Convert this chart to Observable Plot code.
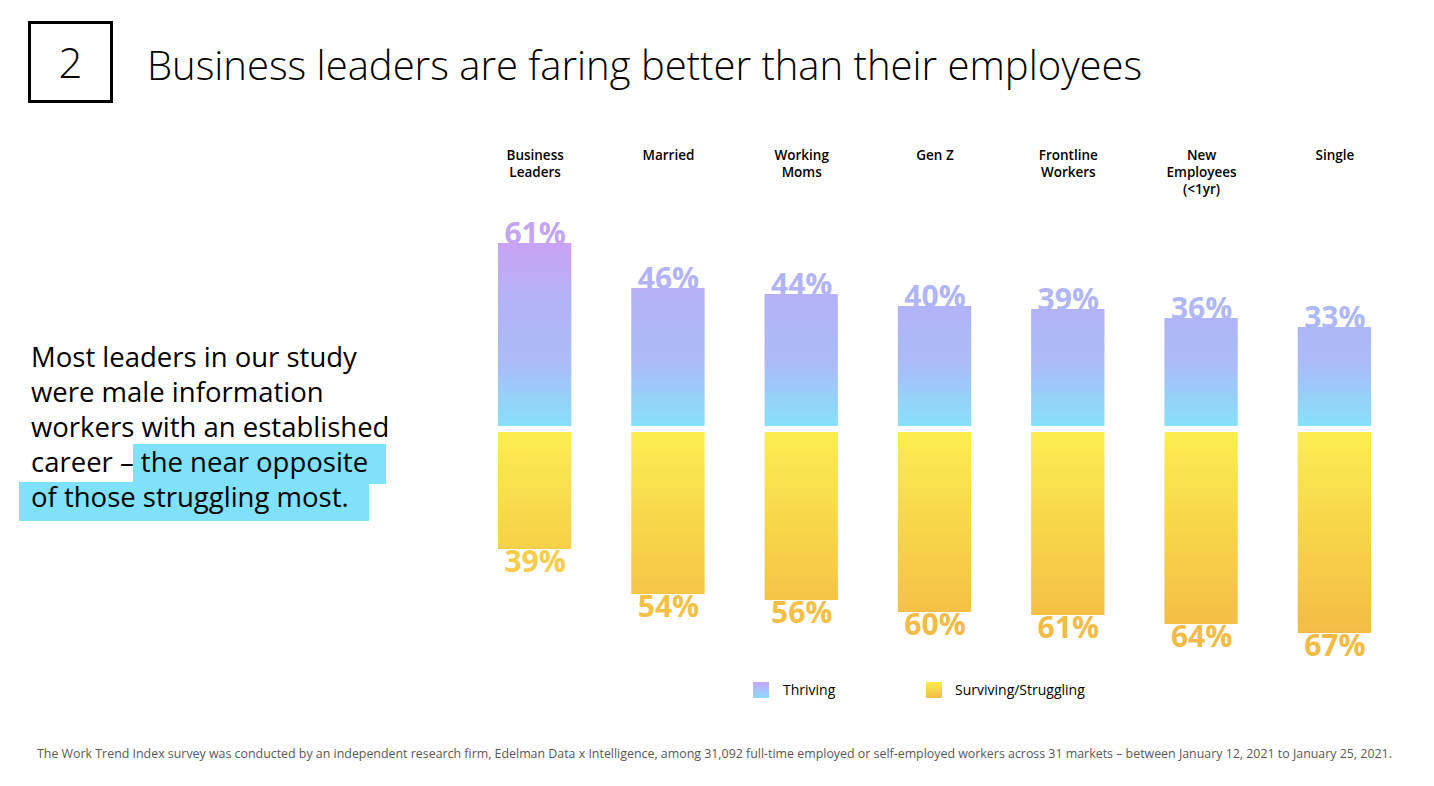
<!DOCTYPE html>
<html><head><meta charset="utf-8">
<script src="https://cdn.jsdelivr.net/npm/d3@7"></script>
<script src="https://cdn.jsdelivr.net/npm/@observablehq/plot@0.6"></script>
<style>
html,body{margin:0;padding:0;background:#fff;}
body{width:1434px;height:786px;position:relative;overflow:hidden;font-family:"Open Sans",sans-serif;color:#000;}
.abs{position:absolute;white-space:nowrap;}
#numbox{left:28px;top:21px;width:79px;height:76px;border:3px solid #000;font-weight:300;font-size:42px;text-align:center;line-height:76px;}
#title{left:147px;top:35px;font-weight:300;font-size:40px;line-height:60px;}
.pl{font-size:27.5px;line-height:35px;left:31px;}
.hl{background:#7fe1fa;}
#chart{left:0;top:130px;}
.leg{font-size:14px;top:680px;}
.sw{width:16px;height:16px;top:682px;}
#foot{left:37px;top:745px;font-size:12.4px;color:#595959;}
</style></head>
<body>
<div id="numbox" class="abs">2</div>
<div id="title" class="abs">Business leaders are faring better than their employees</div>
<div class="abs hl" style="left:133px;top:444px;width:253px;height:40px;"></div>
<div class="abs hl" style="left:19px;top:482px;width:350px;height:39px;"></div>
<div class="abs pl" style="top:339px;">Most leaders in our study</div>
<div class="abs pl" style="top:374px;">were male information</div>
<div class="abs pl" style="top:409px;">workers with an established</div>
<div class="abs pl" style="top:444px;">career – the near opposite</div>
<div class="abs pl" style="top:479px;">of those struggling most.</div>
<div id="chart" class="abs"></div>
<div class="abs sw" style="left:753px;background:linear-gradient(#c6a4f6,#8fdcfb);"></div>
<div class="abs leg" style="left:783px;">Thriving</div>
<div class="abs sw" style="left:926px;background:linear-gradient(#fbe94f,#f4bd45);"></div>
<div class="abs leg" style="left:955px;">Surviving/Struggling</div>
<div id="foot" class="abs">The Work Trend Index survey was conducted by an independent research firm, Edelman Data x Intelligence, among 31,092 full-time employed or self-employed workers across 31 markets – between January 12, 2021 to January 25, 2021.</div>
<script>
const categories = ["Business\nLeaders","Married","Working\nMoms","Gen Z","Frontline\nWorkers","New\nEmployees\n(<1yr)","Single"];
const thriving = [61,46,44,40,39,36,33];
const surviving = [39,54,56,60,61,64,67];

const rows = categories.map((c,i)=>({category:c, thriving:thriving[i], surviving:surviving[i]}));

const thrStops = ["#c9a2f5","#b2b3f7","#aabcf7","#85e1fb"];
const surStops = ["#fbed50","#f4bb44"];
const maxT = d3.max(thriving), maxS = d3.max(surviving);
const thrInterp = d3.piecewise(d3.interpolateRgb, thrStops);
const surInterp = d3.interpolateRgb(surStops[0], surStops[1]);
// label colour = gradient colour at the label's position (label sits ~4 units beyond bar end)
const thrLabel = v => thrInterp(Math.max(0, Math.min(1, (maxT - v + 4) / maxT)));
const surLabel = v => surInterp(Math.max(0, Math.min(1, (v + 5) / maxS)));

const chart = Plot.plot({
  width:1434, height:560,
  marginLeft:438, marginRight:3, marginTop:89, marginBottom:51,
  style:{fontFamily:"'Open Sans', sans-serif", background:"transparent"},
  x:{domain:categories, padding:0.45, round:false, axis:null},
  y:{domain:[-70,70], axis:null},
  marks:[
    Plot.barY(rows,{x:"category", y1:0, y2:"thriving", fill:"url(#gThr)", dy:-3}),
    Plot.barY(rows,{x:"category", y1:0, y2:d=>-d.surviving, fill:"url(#gSur)", dy:3}),
    Plot.text(rows,{x:"category", y:"thriving", text:d=>d.thriving+"%", dy:-12, fontSize:30, fontWeight:700, fill:d=>thrLabel(d.thriving)}),
    Plot.text(rows,{x:"category", y:d=>-d.surviving, text:d=>d.surviving+"%", dy:16, fontSize:30, fontWeight:700, fill:d=>surLabel(d.surviving)}),
    Plot.text(rows,{x:"category", text:"category", frameAnchor:"top", lineAnchor:"top", dy:-72, fontSize:13.5, fontWeight:600, lineHeight:1.26, fill:"#000"})
  ]
});
const y = chart.scale("y");
const defs = d3.select(chart).insert("defs", ":first-child");
function grad(id, y1, y2, stops){
  const g = defs.append("linearGradient").attr("id", id).attr("gradientUnits","userSpaceOnUse")
    .attr("x1",0).attr("x2",0).attr("y1",y1).attr("y2",y2);
  stops.forEach((c,i)=>g.append("stop").attr("offset",i/(stops.length-1)).attr("stop-color",c));
}
grad("gThr", y.apply(maxT), y.apply(0), thrStops);
grad("gSur", y.apply(0), y.apply(-maxS), surStops);
document.getElementById("chart").appendChild(chart);
</script>
</body></html>
